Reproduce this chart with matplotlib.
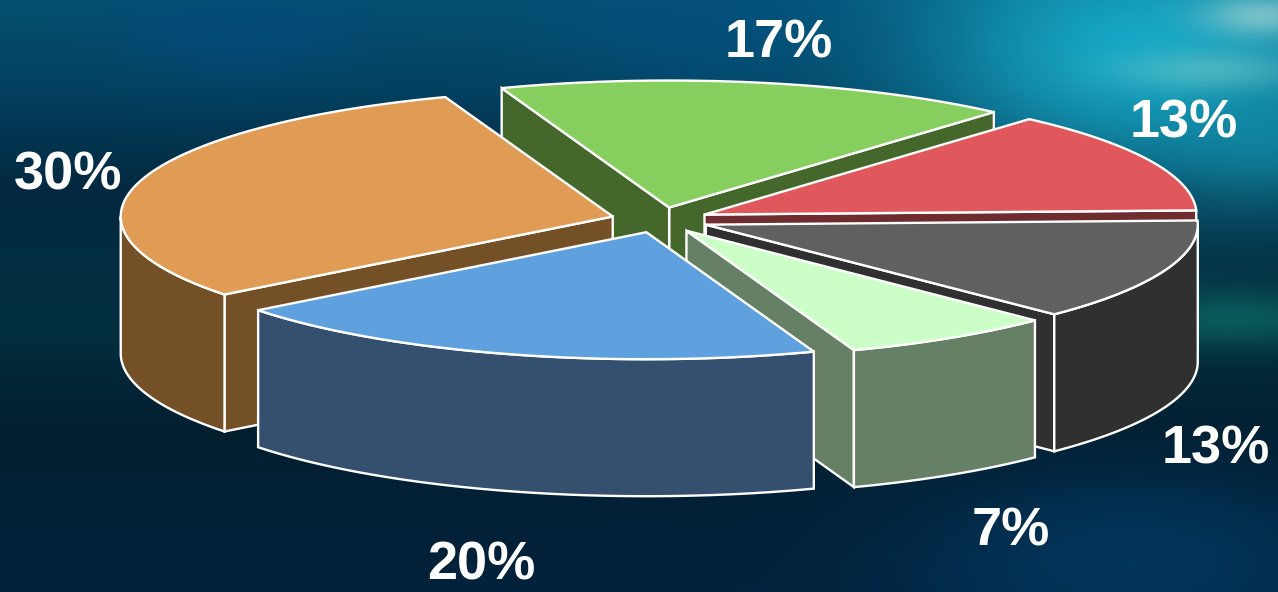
import numpy as np
import matplotlib
matplotlib.use('Agg')
import matplotlib.pyplot as plt
from matplotlib.patches import Polygon
from matplotlib.colors import to_rgb

# valores de la torta, en sentido antihorario desde el rojo
etiquetas = ['13%', '17%', '30%', '20%', '7%', '13%']
valores = [13, 17, 30, 20, 7, 13]
col_sup = ['#E0585C', '#86CE5D', '#E09B54', '#5FA0DE', '#CCFFC8', '#606060']
col_lado = ['#6F2C2E', '#44672B', '#735026', '#34506E', '#668066', '#303030']
pos_etq = [(1184, 124), (779, 43), (68, 175), (481, 566), (1011, 531), (1216, 449)]

# geometria de la proyeccion (en pixeles)
W, H = 1278, 592
CX, CY = 660, 220
RX, RY = 492, 127
PROF = 137
EXPL = 0.1
INICIO = 1.9


def fondo():
    # degradado vertical oscuro con manchas turquesa arriba a la derecha
    yy, xx = np.mgrid[0:H, 0:W]
    paradas = [0, 90, 190, 320, 430, 592]
    colores = np.array([to_rgb(c) for c in
                        ['#045070', '#03405F', '#02293F', '#03303F', '#021F30', '#02223C']])
    img = np.stack([np.interp(yy, paradas, colores[:, k]) for k in range(3)], axis=-1)

    manchas = [
        (1150, 50, 240, 130, '#16A8C6', 1.0),
        (1278, 130, 120, 70, '#128CA8', 0.7),
        (700, 20, 160, 70, '#04507F', 0.7),
        (240, 30, 120, 50, '#044A80', 0.6),
        (1230, 318, 130, 28, '#0B6460', 0.8),
        (1210, 70, 90, 20, '#7CCFCB', 0.5),
        (1262, 15, 60, 22, '#B8E0D8', 0.6),
        (1130, 560, 220, 90, '#033A64', 0.8),
    ]
    for x0, y0, sx, sy, color, a in manchas:
        g = a * np.exp(-((xx - x0) / sx) ** 2 - ((yy - y0) / sy) ** 2)[..., None]
        img = img * (1 - g) + np.array(to_rgb(color)) * g
    return np.clip(img, 0, 1)


def punto(ang, ox, oy):
    r = np.radians(ang)
    return ox + RX * np.cos(r), oy - RY * np.sin(r)


def cara(ax, pts, color, z):
    ax.add_patch(Polygon(pts, closed=True, facecolor=color, edgecolor='white',
                         linewidth=1.7, joinstyle='miter', zorder=z))


def dibujar_porcion(ax, a0, a1, sup, lado, z):
    medio = np.radians((a0 + a1) / 2)
    ox = CX + EXPL * RX * np.cos(medio)
    oy = CY - EXPL * RY * np.sin(medio)

    # paredes radiales que miran al observador
    for ang, signo in ((a0, -90), (a1, 90)):
        if np.sin(np.radians(ang + signo)) < 0:
            p = punto(ang, ox, oy)
            cara(ax, [(ox, oy), p, (p[0], p[1] + PROF), (ox, oy + PROF)], lado, z)

    # pared exterior, solo la mitad delantera
    for k in (0, 1):
        b0 = max(a0, 180 + 360 * k)
        b1 = min(a1, 360 + 360 * k)
        if b1 > b0:
            angs = np.linspace(b0, b1, 80)
            arriba = [punto(a, ox, oy) for a in angs]
            abajo = [(x, y + PROF) for x, y in arriba[::-1]]
            cara(ax, arriba + abajo, lado, z)

    # tapa
    angs = np.linspace(a0, a1, 120)
    cara(ax, [(ox, oy)] + [punto(a, ox, oy) for a in angs], sup, z + 0.5)


fig = plt.figure(figsize=(W / 100, H / 100), dpi=100)
ax = fig.add_axes([0, 0, 1, 1])
ax.imshow(fondo(), extent=(0, W, H, 0), aspect='auto', zorder=0)
ax.set_xlim(0, W)
ax.set_ylim(H, 0)
ax.axis('off')

limites = INICIO + np.concatenate(([0], np.cumsum(valores))) * 360 / sum(valores)
medios = (limites[:-1] + limites[1:]) / 2
# de atras hacia adelante
orden = np.argsort(-np.sin(np.radians(medios)))
for z, i in enumerate(orden):
    dibujar_porcion(ax, limites[i], limites[i + 1], col_sup[i], col_lado[i], 2 + z)

for txt, (x, y) in zip(etiquetas, pos_etq):
    ax.text(x, y, txt, color='white', fontsize=39, fontweight='bold',
            family='Liberation Sans', ha='center', va='center', zorder=20)

fig.savefig('out.png', dpi=100)
